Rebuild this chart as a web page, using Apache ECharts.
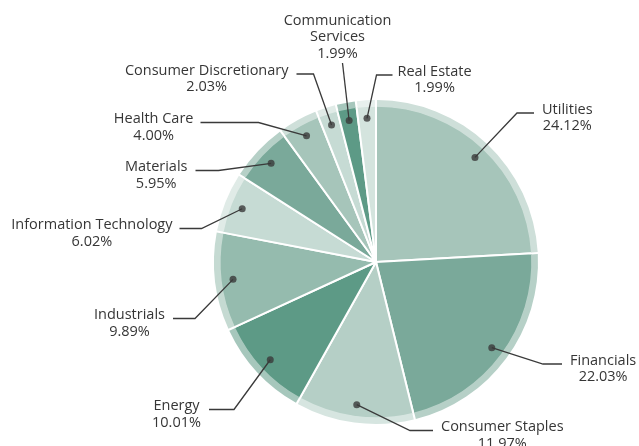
<!DOCTYPE html>
<html><head><meta charset="utf-8">
<script src="https://cdn.jsdelivr.net/npm/echarts@6/dist/echarts.min.js"></script>
<style>html,body{margin:0;padding:0;background:#fff}#c{width:639px;height:446px}</style>
</head><body><div id="c"></div>
<script>
// ---- data ----
const categories = ['Utilities','Financials','Consumer Staples','Energy','Industrials','Information Technology','Materials','Health Care','Consumer Discretionary','Communication Services','Real Estate'];
const weights = [24.12,22.03,11.97,10.01,9.89,6.02,5.95,4.00,2.03,1.99,1.99];

// ---- styles / layout ----
const sliceColors = ['#a6c5ba','#7aa99a','#b5cfc6','#5d9a86','#95bbae','#c6dbd4','#7aa99a','#a6c5ba','#c6dbd4','#5d9a86','#d4e4de'];
const wrappedNames = {'Communication Services':'Communication\nServices'};
const CX = 376, CY = 262;
const R_INNER = 157, R_RING_IN = 155.3, R_RING_OUT = 162, R_DOT = 144;
const calloutElbow = [[141,-149],[167,102],[34,168.5],[-142,147.5],[-181,56.5],[-174.5,-33.5],[-157.5,-91.5],[-117.5,-139.5],[-62.5,-188],[-33.5,-199],[0.5,-187]];
const calloutArm = [17,19,23,-25,-22,-22,-23,-58,-17,0,16];
const calloutGap = [8,8,8,8,8,7,8,7,8,0,5];

function lighten(hex, t) {
  const n = parseInt(hex.slice(1), 16);
  const r = (n >> 16) & 255, g = (n >> 8) & 255, b = n & 255;
  const f = c => Math.round(c + (255 - c) * t);
  return 'rgb(' + f(r) + ',' + f(g) + ',' + f(b) + ')';
}

const total = weights.reduce((s, v) => s + v, 0);
const mids = [];
let acc = 0;
weights.forEach(v => { mids.push((acc + v / 2) / total * 100); acc += v; });

const innerData = categories.map((n, i) => ({name: n, value: weights[i], itemStyle: {color: sliceColors[i]}}));
const ringData = categories.map((n, i) => ({name: n, value: weights[i], itemStyle: {color: lighten(sliceColors[i], 0.45)}}));
const labelData = categories.map((n, i) => ({name: n, value: weights[i]}));

const chart = echarts.init(document.getElementById('c'), null, {renderer: 'canvas'});
chart.setOption({
  animation: false,
  backgroundColor: '#fff',
  polar: {center: [CX, CY], radius: R_DOT},
  angleAxis: {type: 'value', min: 0, max: 100, startAngle: 90, clockwise: true, show: false},
  radiusAxis: {type: 'value', min: 0, max: 1, show: false},
  series: [
    {
      type: 'pie', z: 1, center: [CX, CY], radius: [0, R_INNER], startAngle: 90, clockwise: true,
      silent: true, emphasis: {disabled: true}, label: {show: false}, labelLine: {show: false},
      itemStyle: {borderColor: '#ffffff', borderWidth: 2},
      data: innerData
    },
    {
      type: 'pie', z: 2, center: [CX, CY], radius: [R_RING_IN, R_RING_OUT], startAngle: 90, clockwise: true,
      padAngle: 0.75, silent: true, emphasis: {disabled: true}, label: {show: false}, labelLine: {show: false},
      itemStyle: {borderWidth: 0},
      data: ringData
    },
    {
      type: 'pie', z: 3, center: [CX, CY], radius: [0, R_DOT], startAngle: 90, clockwise: true,
      silent: true, emphasis: {disabled: true}, avoidLabelOverlap: false,
      itemStyle: {color: 'rgba(0,0,0,0)', borderWidth: 0},
      label: {
        show: true, position: 'outside', align: 'center',
        fontFamily: 'Open Sans', fontSize: 14.5, lineHeight: 16.5, color: '#363636',
        formatter: p => (wrappedNames[p.name] || p.name) + '\n' + weights[p.dataIndex].toFixed(2) + '%'
      },
      labelLine: {show: true, showAbove: true, length: 40, length2: 20, lineStyle: {color: '#3a3a3a', width: 1.3}},
      labelLayout: function (params) {
        const i = params.dataIndex;
        const pts = params.labelLinePoints;
        let a;
        if (pts && pts[0]) {
          a = [pts[0][0], pts[0][1]];
        } else {
          const ang = (90 - mids[i] * 3.6) * Math.PI / 180;
          a = [CX + R_DOT * Math.cos(ang), CY - R_DOT * Math.sin(ang)];
        }
        const e = calloutElbow[i];
        const elbow = [CX + e[0], CY + e[1]];
        const arm = calloutArm[i];
        const end = [elbow[0] + arm, elbow[1]];
        const w = params.labelRect.width;
        const g = calloutGap[i];
        let x, y, va = 'middle';
        if (arm > 0) { x = end[0] + g + w / 2; y = end[1] + 5; }
        else if (arm < 0) { x = end[0] - g - w / 2; y = end[1] + 5; }
        else { x = end[0] - 5; y = end[1] - 1; va = 'bottom'; }
        return {x: x, y: y, align: 'center', verticalAlign: va, labelLinePoints: [a, elbow, end]};
      },
      data: labelData
    },
    {
      type: 'scatter', z: 4, coordinateSystem: 'polar', silent: true,
      symbol: 'circle', symbolSize: 7, itemStyle: {color: '#3a3a3a'},
      data: mids.map(m => [1, m])
    }
  ]
});
</script>
</body></html>
